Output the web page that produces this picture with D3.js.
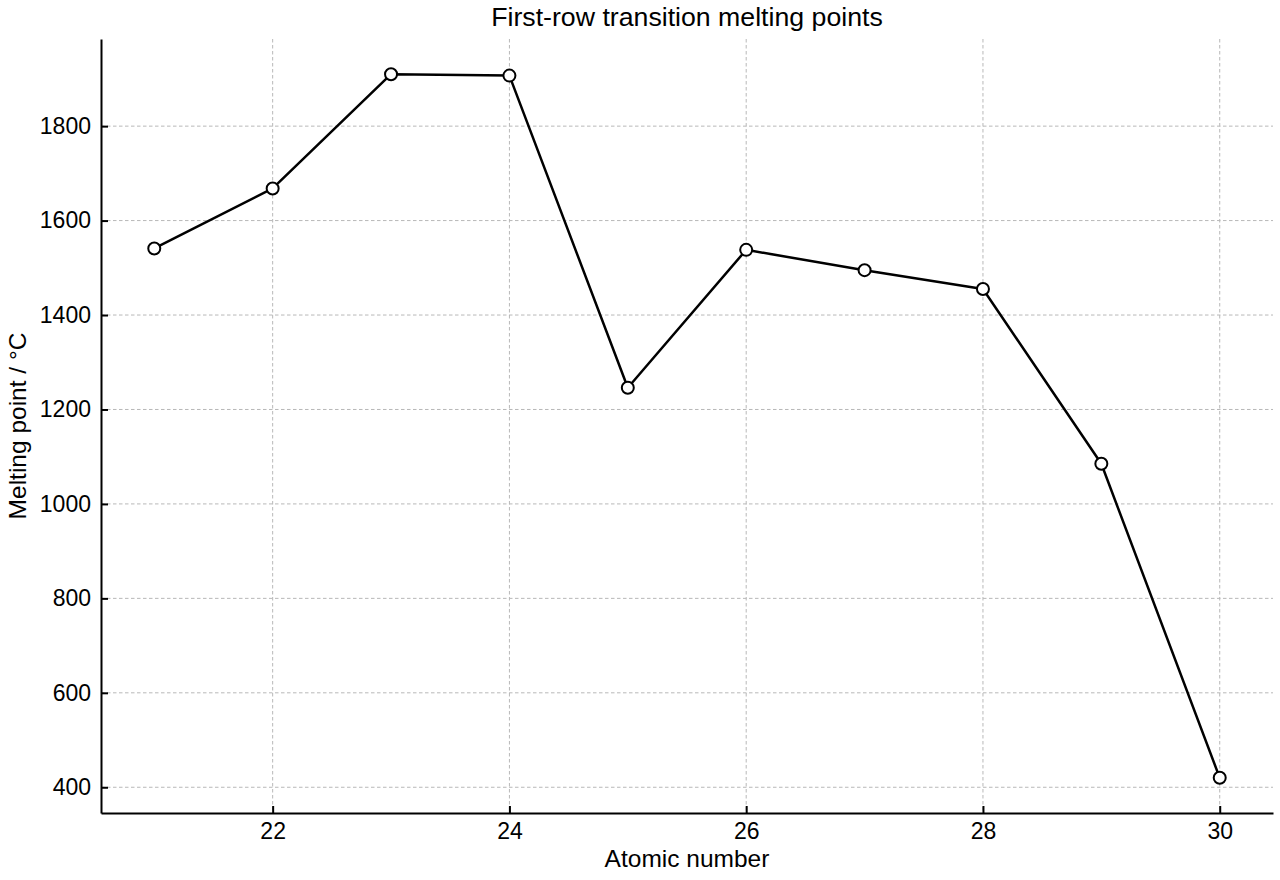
<!DOCTYPE html>
<meta charset="utf-8">
<head>
  <title>First-row transition melting points</title>
</head>
<style>
    body { margin: 0; background: white; }
    svg text { font-family: "Liberation Sans", Arial, sans-serif; fill: black; }
    .grid line { stroke: #b8b8b8; stroke-width: 1px; stroke-dasharray: 3.5 2.5; }
    .axis path, .axis line { stroke: black; }
</style>
<body>
<svg id="chart" width="1280" height="880"></svg>
<script src="https://cdn.jsdelivr.net/npm/d3@7"></script>
<script>
    var atomicNumber = [21, 22, 23, 24, 25, 26, 27, 28, 29, 30];
    var meltingPoint = [1541, 1668, 1910, 1907, 1246, 1538, 1495, 1455, 1085, 420];
    var xTicks = [22, 24, 26, 28, 30];
    var yTicks = [400, 600, 800, 1000, 1200, 1400, 1600, 1800];

    var margin = {top: 39, right: 7, bottom: 67, left: 101},
        width = 1280 - margin.left - margin.right,
        height = 880 - margin.top - margin.bottom;

    var svg = d3.select("#chart");
    var g = svg.append("g").attr("transform", "translate(" + margin.left + "," + margin.top + ")");

    // matplotlib-style 5% padding
    var xmin = d3.min(atomicNumber), xmax = d3.max(atomicNumber);
    var ymin = d3.min(meltingPoint), ymax = d3.max(meltingPoint);
    var xpad = (xmax - xmin) * 0.05, ypad = (ymax - ymin) * 0.05;

    var x = d3.scaleLinear().domain([xmin - xpad, xmax + xpad]).range([0, width]);
    var y = d3.scaleLinear().domain([ymin - ypad, ymax + ypad]).range([height, 0]);

    // grid
    g.append("g").attr("class", "grid")
        .selectAll("line").data(xTicks).enter().append("line")
        .attr("x1", d => x(d)).attr("x2", d => x(d))
        .attr("y1", 0).attr("y2", height);
    g.append("g").attr("class", "grid")
        .selectAll("line").data(yTicks).enter().append("line")
        .attr("x1", 0).attr("x2", width)
        .attr("y1", d => y(d)).attr("y2", d => y(d));

    // axes, ticks pointing inward
    var xAxis = g.append("g").attr("class", "axis")
        .attr("transform", "translate(0," + height + ")")
        .call(d3.axisBottom(x).tickValues(xTicks).tickFormat(d3.format("d"))
            .tickSizeInner(-7).tickSizeOuter(0).tickPadding(10));
    var yAxis = g.append("g").attr("class", "axis")
        .call(d3.axisLeft(y).tickValues(yTicks).tickFormat(d3.format("d"))
            .tickSizeInner(-7).tickSizeOuter(0).tickPadding(10));

    [xAxis, yAxis].forEach(function(a) {
        a.attr("font-family", null).attr("font-size", 23);
        a.select(".domain").attr("stroke-width", 2);
        a.selectAll(".tick line").attr("stroke-width", 2);
        a.selectAll("text").style("font-size", "23px");
    });

    // line
    var line = d3.line()
        .x((d, i) => x(atomicNumber[i]))
        .y(d => y(d));

    g.append("path")
        .datum(meltingPoint)
        .attr("d", line)
        .attr("fill", "none")
        .attr("stroke", "black")
        .attr("stroke-width", 2.5)
        .attr("stroke-linejoin", "round");

    g.selectAll("circle.pt").data(meltingPoint).enter().append("circle")
        .attr("class", "pt")
        .attr("cx", (d, i) => x(atomicNumber[i]))
        .attr("cy", d => y(d))
        .attr("r", 6)
        .attr("fill", "white")
        .attr("stroke", "black")
        .attr("stroke-width", 2);

    // labels
    svg.append("text")
        .attr("x", margin.left + width / 2).attr("y", 26)
        .attr("text-anchor", "middle")
        .style("font-size", "26.7px")
        .text("First-row transition melting points");

    svg.append("text")
        .attr("x", margin.left + width / 2).attr("y", 867)
        .attr("text-anchor", "middle")
        .style("font-size", "24.5px")
        .text("Atomic number");

    svg.append("text")
        .attr("transform", "translate(26," + (margin.top + height / 2) + ") rotate(-90)")
        .attr("text-anchor", "middle")
        .style("font-size", "24.5px")
        .text("Melting point / °C");
</script>
</body>
